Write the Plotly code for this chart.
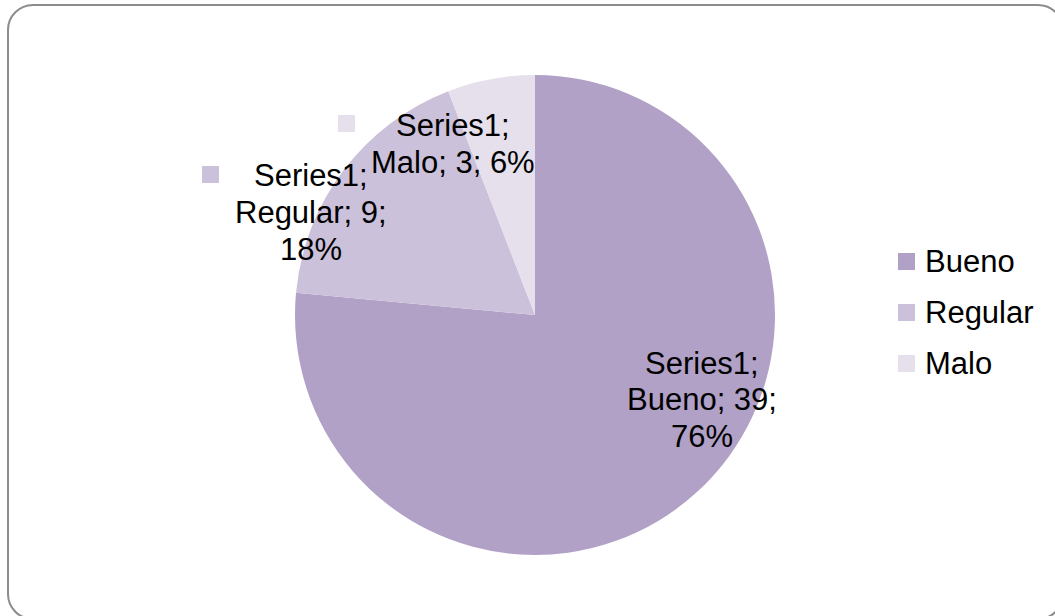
import plotly.graph_objects as go

# ---- data ----
series_name = "Series1"
categories = ["Bueno", "Regular", "Malo"]
values = [39, 9, 3]
colors = ["#B2A1C7", "#CCC1DA", "#E5E0EC"]

W, H = 1055, 616
FONT = "Liberation Sans, Arial, sans-serif"


def px(x):
    return x / W


def py(y):
    return 1 - y / H


total = sum(values)
percents = [round(v * 100 / total) for v in values]

fig = go.Figure()
fig.add_trace(go.Pie(
    labels=categories,
    values=values,
    marker=dict(colors=colors, line=dict(width=0)),
    sort=False,
    direction="clockwise",
    rotation=0,
    textinfo="none",
    hoverinfo="label+value+percent",
    showlegend=False,
    domain=dict(x=[px(295), px(775)], y=[py(555), py(75)]),
))

# ---- data labels (series; category; value; percent) ----
# line groups: which label parts go on each printed line
line_groups = [[[0], [1, 2], [3]], [[0], [1, 2], [3]], [[0], [1, 2, 3]]]
label_pos = [(702, 363), (311, 175.5), (452.5, 125.5)]   # centre x, first-line y
key_pos = [(595, 354), (202, 166), (338, 115)]          # legend-key square, top-left
LINE_STEP = 36.8
KEY = 17

annotations = []
shapes = []
for i, cat in enumerate(categories):
    parts = [f"{series_name};", f"{cat};", f"{values[i]};", f"{percents[i]}%"]
    cx, cy = label_pos[i]
    for j, grp in enumerate(line_groups[i]):
        annotations.append(dict(
            x=px(cx), y=py(cy + j * LINE_STEP), xref="paper", yref="paper",
            text=" ".join(parts[k] for k in grp), showarrow=False,
            xanchor="center", yanchor="middle",
            font=dict(family=FONT, size=31, color="#000000"),
        ))
    kx, ky = key_pos[i]
    shapes.append(dict(
        type="rect", xref="paper", yref="paper",
        x0=px(kx), x1=px(kx + KEY), y0=py(ky), y1=py(ky + KEY),
        fillcolor=colors[i], line=dict(width=0), layer="above",
    ))

# ---- legend ----
LEG_X = 898
LEG_Y0 = 261.5
LEG_STEP = 51
for i, cat in enumerate(categories):
    yc = LEG_Y0 + i * LEG_STEP
    shapes.append(dict(
        type="rect", xref="paper", yref="paper",
        x0=px(LEG_X), x1=px(LEG_X + KEY), y0=py(yc - KEY / 2), y1=py(yc + KEY / 2),
        fillcolor=colors[i], line=dict(width=0),
    ))
    annotations.append(dict(
        x=px(LEG_X + 25), y=py(yc), xref="paper", yref="paper",
        text=cat, showarrow=False, xanchor="left", yanchor="middle",
        font=dict(family=FONT, size=31, color="#000000"),
    ))

# ---- rounded chart frame ----
x0, y0, x1, y1, r = 8, 5, 1063, 619, 25
k = 0.5523 * r


def P(x, y):
    return f"{px(x):.6f},{py(y):.6f}"


frame = (
    f"M {P(x0 + r, y0)} L {P(x1 - r, y0)} "
    f"C {P(x1 - r + k, y0)} {P(x1, y0 + r - k)} {P(x1, y0 + r)} "
    f"L {P(x1, y1 - r)} "
    f"C {P(x1, y1 - r + k)} {P(x1 - r + k, y1)} {P(x1 - r, y1)} "
    f"L {P(x0 + r, y1)} "
    f"C {P(x0 + r - k, y1)} {P(x0, y1 - r + k)} {P(x0, y1 - r)} "
    f"L {P(x0, y0 + r)} "
    f"C {P(x0, y0 + r - k)} {P(x0 + r - k, y0)} {P(x0 + r, y0)} Z"
)
shapes.append(dict(type="path", xref="paper", yref="paper", path=frame,
                   line=dict(color="#8C8C8C", width=2), fillcolor="rgba(0,0,0,0)"))

fig.update_layout(
    width=W, height=H,
    margin=dict(l=0, r=0, t=0, b=0),
    paper_bgcolor="#FFFFFF",
    plot_bgcolor="#FFFFFF",
    showlegend=False,
    annotations=annotations,
    shapes=shapes,
)

fig.write_html("out.html")
